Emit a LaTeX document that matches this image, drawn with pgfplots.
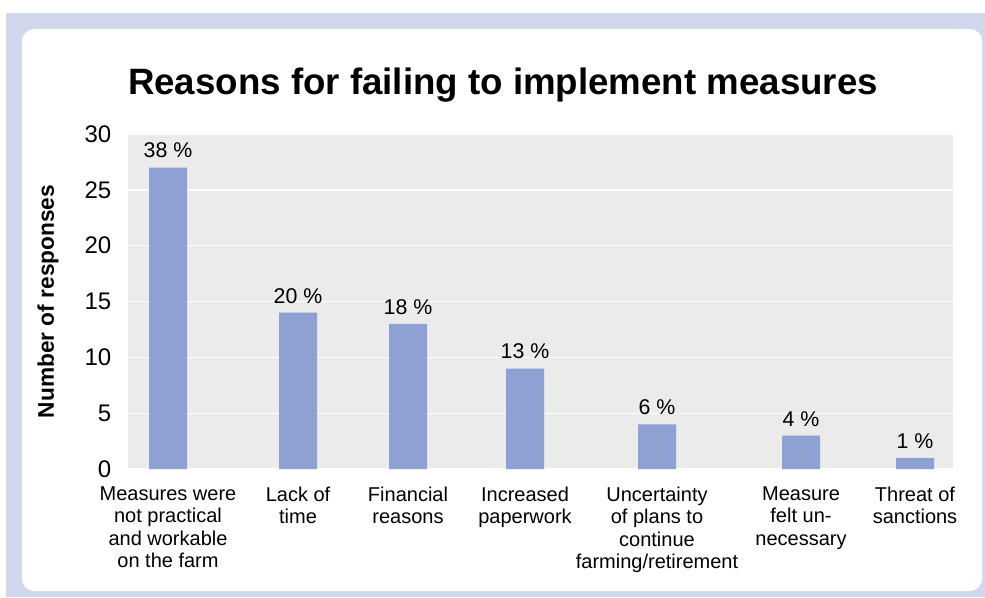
\documentclass[border=0pt]{standalone}
\usepackage{pgfplots}
\pgfplotsset{compat=1.18}
\usepackage{fontspec}
\setmainfont{Liberation Sans}
\definecolor{outerbg}{RGB}{211,215,237}
\definecolor{plotbg}{RGB}{235,235,235}
\definecolor{barcol}{RGB}{143,160,210}
\begin{document}
\begin{tikzpicture}
\begin{scope}[x=0.75pt,y=0.75pt]
\fill[white] (0,0) rectangle (985,597);
\fill[outerbg] (6,0) rectangle (985,584);
\fill[white, rounded corners=9pt] (22,6) rectangle (982,568);
\node[anchor=base, font=\fontsize{27.5}{32}\selectfont\bfseries] at (503,502) {Reasons for failing to implement measures};
\end{scope}
\begin{axis}[
  at={(96pt,96pt)}, anchor=south west,
  scale only axis, width=618.75pt, height=251.25pt,
  xmin=128, xmax=953, ymin=0, ymax=30,
  axis background/.style={fill=plotbg},
  axis line style={draw=none},
  tick style={draw=none},
  ytick={0,5,...,30},
  ymajorgrids, grid style={white, line width=1pt},
  xtick={168,298,408,525,657,801,915},
  xticklabels={{Measures were\\not practical\\and workable\\on the farm},{Lack of\\time},{Financial\\reasons},{Increased\\paperwork},{Uncertainty\\of plans to\\continue\\farming/retirement},{Measure\\felt un-\\necessary},{Threat of\\sanctions}},
  xticklabel style={align=center, font=\fontsize{15}{16.8}\selectfont, anchor=north, yshift=-5.5pt},
  yticklabel style={font=\fontsize{18}{20}\selectfont, xshift=-9pt},
  /pgf/number format/assume math mode=true,
  ylabel={\bfseries Number of responses},
  every axis y label/.style={at={(rel axis cs:0,0.5)}, xshift=-60pt, rotate=90, anchor=center, font=\fontsize{17}{20}\selectfont},
  ybar, bar width=28.5pt,
  nodes near coords={\pgfplotspointmeta\ \%},
  point meta=explicit symbolic,
  every node near coord/.append style={font=\fontsize{16}{18}\selectfont, yshift=3.5pt},
]
\addplot[fill=barcol, draw=none] table[meta=lab] {
x y lab
168 27 38
298 14 20
408 13 18
525 9 13
657 4 6
801 3 4
915 1 1
};
\end{axis}
\end{tikzpicture}
\end{document}
